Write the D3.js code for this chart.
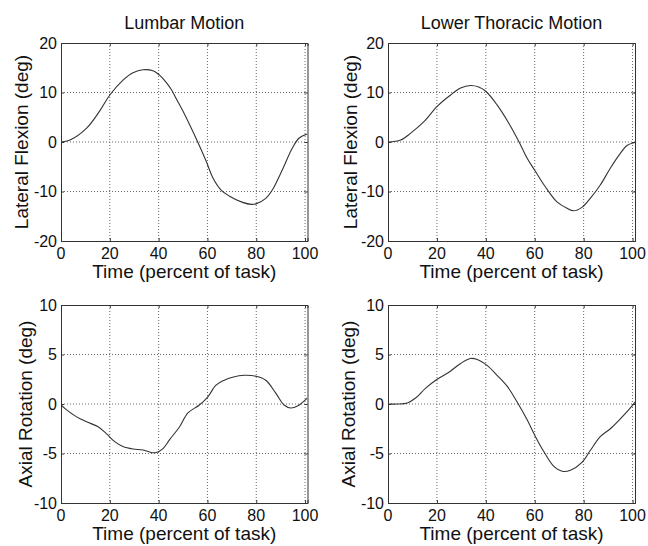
<!DOCTYPE html>
<html><head><meta charset="utf-8">
<script src="https://cdn.jsdelivr.net/npm/d3@7"></script>
<style>
body{margin:0;background:#fff;}
text{font-family:Arial,"Liberation Sans",sans-serif;fill:#111;}
</style></head>
<body><svg id="c" width="648" height="546"></svg>
<script>
// ---- data ----
const titles = ["Lumbar Motion", "Lower Thoracic Motion"];
const xLabel = "Time (percent of task)";
const yLabels = ["Lateral Flexion (deg)", "Axial Rotation (deg)"];
const xTicks = [0, 20, 40, 60, 80, 100];
const yTicksTop = [-20, -10, 0, 10, 20];
const yTicksBottom = [-10, -5, 0, 5, 10];

const lumbarLatX = [0,3.7,10.5,15.9,20,25.4,29.5,33.6,37.7,40.4,43,45.2,47.5,49.9,54.7,59.5,62.2,65.6,68.9,74.4,78,79.9,83.9,86.7,90.7,94.8,97.6,100.9];
const lumbarLatY = [0,0.4,2.8,6.3,9.5,12.5,14.0,14.6,14.4,13.5,12.1,10.6,8.5,6.3,1.4,-3.9,-7.2,-9.7,-10.9,-12.2,-12.6,-12.5,-11.4,-9.6,-5.6,-1.2,0.8,1.6];

const thorLatX = [0,5.2,9.3,14.7,20.1,25.6,29.7,33.7,37.1,40.1,44.6,49.4,53.5,56.9,60,64.4,69.1,73.2,75.9,79.3,82.7,86.8,90.9,95,97.7,101];
const thorLatY = [0,0.4,1.8,4.1,7.2,9.5,10.9,11.4,11.1,10.2,7.5,3.8,0.1,-3.3,-5.7,-9.1,-12.1,-13.4,-13.9,-13.2,-11.4,-8.7,-5.3,-2.3,-0.7,-0.1];

const lumbarRotX = [0,2.3,6.4,10.5,15.2,18.6,22,25.4,29.5,33.6,37,39,41.8,44.5,48.6,52,56.7,60.1,63.5,66.9,70.3,75.1,79.9,83.9,88,91.4,94.1,96.9,100.9];
const lumbarRotY = [-0.1,-0.6,-1.3,-1.8,-2.3,-3.0,-3.8,-4.3,-4.55,-4.65,-4.9,-4.9,-4.5,-3.6,-2.3,-0.9,-0.1,0.7,1.9,2.4,2.7,2.9,2.8,2.4,1.1,-0.1,-0.4,-0.2,0.6];

const thorRotX = [0,3.8,7.9,11.3,15.4,20.1,24.9,29.7,33.7,36.5,40.5,44.6,48.7,52.8,56.9,60.3,63.7,67.8,71.2,74.6,79.3,82.7,86.8,90.9,95,98.4,101];
const thorRotY = [0,0,0.1,0.6,1.6,2.5,3.2,4.1,4.6,4.5,3.9,2.9,1.8,0.2,-1.6,-3.3,-4.8,-6.3,-6.8,-6.7,-5.9,-4.7,-3.3,-2.5,-1.5,-0.6,0.2];

const panels = [
  {col:0,row:0,title:titles[0],yLabel:yLabels[0],yTicks:yTicksTop,xs:lumbarLatX,ys:lumbarLatY},
  {col:1,row:0,title:titles[1],yLabel:yLabels[0],yTicks:yTicksTop,xs:thorLatX,ys:thorLatY},
  {col:0,row:1,title:null,yLabel:yLabels[1],yTicks:yTicksBottom,xs:lumbarRotX,ys:lumbarRotY},
  {col:1,row:1,title:null,yLabel:yLabels[1],yTicks:yTicksBottom,xs:thorRotX,ys:thorRotY}
];

// ---- layout ----
const colX = [[61,307.5],[388,635]];
const rowY = [[43,241],[305,503]];
const svg = d3.select("#c");

panels.forEach((p,i)=>{
  const [x0,x1] = colX[p.col];
  const [y0,y1] = rowY[p.row];
  const x = d3.scaleLinear().domain([0,101]).range([x0,x1]);
  const y = d3.scaleLinear().domain([p.yTicks[0], p.yTicks[p.yTicks.length-1]]).range([y1,y0]);
  const g = svg.append("g");

  // grid
  g.selectAll(".gx").data(xTicks.filter(t=>t>0)).enter().append("line")
    .attr("x1",d=>x(d)).attr("x2",d=>x(d)).attr("y1",y0).attr("y2",y1)
    .attr("stroke","#666").attr("stroke-width",1).attr("stroke-dasharray","1,2");
  g.selectAll(".gy").data(p.yTicks.slice(1,-1)).enter().append("line")
    .attr("x1",x0).attr("x2",x1).attr("y1",d=>y(d)).attr("y2",d=>y(d))
    .attr("stroke","#666").attr("stroke-width",1).attr("stroke-dasharray","1,2");

  // axes (inward ticks, box)
  const axB = d3.axisBottom(x).tickValues(xTicks).tickSize(-3).tickFormat("");
  const axT = d3.axisTop(x).tickValues(xTicks).tickSize(-3).tickFormat("");
  const axL = d3.axisLeft(y).tickValues(p.yTicks).tickSize(-3).tickFormat("");
  const axR = d3.axisRight(y).tickValues(p.yTicks).tickSize(-3).tickFormat("");
  [[axB,`translate(0,${y1})`],[axT,`translate(0,${y0})`],[axL,`translate(${x0},0)`],[axR,`translate(${x1},0)`]].forEach(([a,t])=>{
    const ag = g.append("g").attr("transform",t).call(a);
    ag.selectAll("path,line").attr("stroke","#333");
  });

  // tick labels
  g.selectAll(".xl").data(xTicks).enter().append("text")
    .attr("x",d=>x(d)).attr("y",y1+18).attr("text-anchor","middle")
    .attr("font-size",16).text(d=>d);
  g.selectAll(".yl").data(p.yTicks).enter().append("text")
    .attr("x",x0-4).attr("y",d=>y(d)).attr("dy","0.36em").attr("text-anchor","end")
    .attr("font-size",16).text(d=>d);

  // line
  const clipId = "clip"+i;
  svg.append("clipPath").attr("id",clipId).append("rect")
    .attr("x",x0).attr("y",y0).attr("width",x1-x0).attr("height",y1-y0);
  const pts = p.xs.map((v,k)=>[v,p.ys[k]]);
  g.append("path").datum(pts).attr("clip-path",`url(#${clipId})`)
    .attr("fill","none").attr("stroke","#333").attr("stroke-width",1.1)
    .attr("d",d3.line().x(d=>x(d[0])).y(d=>y(d[1])).curve(d3.curveCatmullRom.alpha(0.5)));

  // labels
  g.append("text").attr("x",(x0+x1)/2).attr("y",y1+37).attr("text-anchor","middle")
    .attr("font-size",19).text(xLabel);
  const lx = (p.col===0?0:324) + (p.row===0 ? (p.col===0?28:33) : (p.col===0?32:31));
  g.append("text").attr("transform",`translate(${lx},${(y0+y1)/2}) rotate(-90)`)
    .attr("text-anchor","middle").attr("font-size",19).text(p.yLabel);
  if(p.title){
    g.append("text").attr("x",(x0+x1)/2).attr("y",y0-14).attr("text-anchor","middle")
      .attr("font-size",18).text(p.title);
  }
});
</script></body></html>
